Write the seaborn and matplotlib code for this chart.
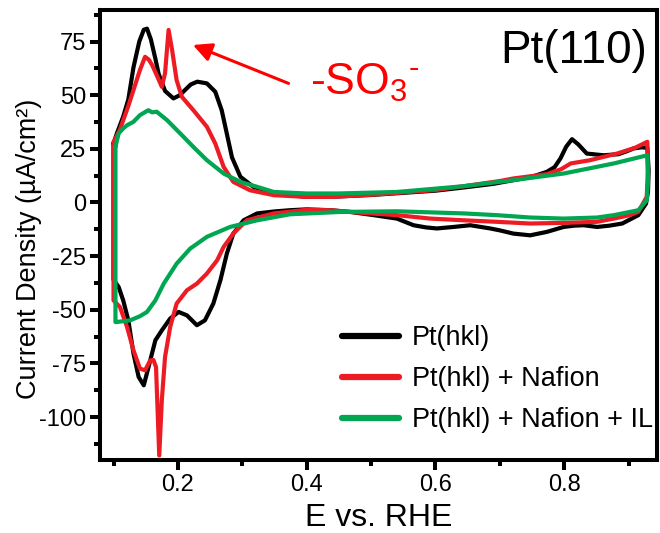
import numpy as np
import pandas as pd
import matplotlib
matplotlib.use("Agg")
import matplotlib.pyplot as plt
import seaborn as sns

# ---------------- data ----------------
series_names = ["Pt(hkl)", "Pt(hkl) + Nafion", "Pt(hkl) + Nafion + IL"]
colors = ["#000000", "#ED1C24", "#00A651"]

E_black_anodic = [0.100, 0.105, 0.110, 0.115, 0.123, 0.131, 0.140, 0.147, 0.152, 0.158,
                  0.165, 0.170, 0.180, 0.193, 0.203, 0.211, 0.220, 0.230, 0.245, 0.258,
                  0.268, 0.276, 0.284, 0.297, 0.317, 0.349, 0.400, 0.450, 0.500, 0.550,
                  0.600, 0.644, 0.690, 0.721, 0.750, 0.773, 0.785, 0.794, 0.803, 0.812,
                  0.822, 0.835, 0.861, 0.884, 0.898, 0.908, 0.920, 0.929]
j_black_anodic = [27.5, 32, 36, 40, 48, 63, 75, 80.5, 81, 76,
                  67, 60, 52, 48.5, 50, 52.4, 55, 56.3, 55.5, 51.6,
                  43, 32, 21, 12, 7.3, 4.2, 2.6, 2.8, 3.5, 4.5,
                  5.5, 7, 8.7, 10.4, 12, 14.3, 16.5, 20.5, 26, 29.5,
                  27, 22.8, 22, 22.5, 24, 25.2, 25.7, 25.5]
E_black_cathodic = [0.931, 0.930, 0.927, 0.915, 0.890, 0.870, 0.851, 0.830, 0.815, 0.799,
                    0.773, 0.747, 0.721, 0.700, 0.685, 0.654, 0.628, 0.602, 0.585, 0.566,
                    0.540, 0.504, 0.470, 0.437, 0.400, 0.374, 0.349, 0.323, 0.302, 0.286,
                    0.276, 0.266, 0.255, 0.242, 0.2295, 0.214, 0.201, 0.188, 0.175, 0.165,
                    0.157, 0.147, 0.139, 0.131, 0.123, 0.115, 0.108, 0.100]
j_black_cathodic = [15, 5, -0.5, -5.9, -9.8, -10.8, -11.4, -10.6, -10.8, -11.4,
                    -13.7, -15.3, -14.5, -13, -12.1, -10.6, -11.4, -12.1, -11.6, -10.6,
                    -7.5, -5.9, -4.5, -3.6, -3.2, -3.6, -4.2, -5.1, -8.3, -14.5,
                    -23.8, -36.2, -47.1, -54.9, -57.2, -52.6, -51, -54.1, -59.6, -64.2,
                    -73.6, -85.2, -81.3, -70.4, -54.9, -45.6, -39.4, -36]

E_red_anodic = [0.100, 0.105, 0.110, 0.115, 0.123, 0.131, 0.141, 0.149, 0.155, 0.160,
                0.167, 0.175, 0.180, 0.1855, 0.191, 0.198, 0.206, 0.224, 0.245, 0.258,
                0.271, 0.286, 0.312, 0.349, 0.400, 0.437, 0.500, 0.550, 0.600, 0.644,
                0.700, 0.721, 0.773, 0.795, 0.810, 0.840, 0.882, 0.910, 0.929]
j_red_anodic = [28, 31, 34, 38.3, 45, 52.4, 61.7, 67.9, 66.5, 64,
                59.4, 53.9, 60.2, 80.4, 71, 57, 49.3, 43, 35.3, 27.5,
                16.6, 9.6, 5.7, 3.4, 2.6, 2.6, 3.6, 4.7, 5.8, 7.6,
                10, 11.2, 13.2, 15.5, 18.2, 19.7, 22.8, 25.5, 28.3]
E_red_cathodic = [0.930, 0.928, 0.915, 0.900, 0.877, 0.851, 0.799, 0.747, 0.695, 0.644,
                  0.592, 0.540, 0.489, 0.437, 0.400, 0.349, 0.307, 0.286, 0.271, 0.261,
                  0.245, 0.2295, 0.214, 0.198, 0.188, 0.180, 0.175, 0.171, 0.166, 0.162,
                  0.157, 0.149, 0.141, 0.131, 0.121, 0.110, 0.100]
j_red_cathodic = [15, 2.6, -4.4, -6, -7.5, -9, -9.5, -9.8, -9, -8.3,
                  -7.5, -5.9, -4.9, -3.6, -3.4, -5.1, -8.3, -14.5, -20.7, -26.9,
                  -33.1, -37.8, -40.9, -47.1, -58, -72, -92.2, -117.9, -76.7, -73.4,
                  -73.6, -78.2, -77.4, -68.9, -58, -48.7, -45.6]

E_green_anodic = [0.103, 0.108, 0.115, 0.121, 0.131, 0.141, 0.154, 0.160, 0.167, 0.183,
                  0.2035, 0.224, 0.245, 0.271, 0.297, 0.323, 0.349, 0.400, 0.449, 0.540,
                  0.644, 0.721, 0.799, 0.877, 0.929]
j_green_anodic = [26, 32.2, 34.5, 36, 37.6, 40.7, 43, 42, 42.3, 38.4,
                  32.2, 25.9, 19.7, 13.5, 9.6, 7.3, 4.9, 4.2, 4.2, 4.9,
                  7.6, 10.4, 13.5, 18.2, 22]
E_green_cathodic = [0.930, 0.928, 0.915, 0.877, 0.851, 0.799, 0.747, 0.695, 0.644, 0.540,
                    0.452, 0.374, 0.323, 0.281, 0.245, 0.219, 0.198, 0.178, 0.165, 0.152,
                    0.141, 0.126, 0.105, 0.103]
j_green_cathodic = [10, 1, -3.6, -5.9, -7, -7.5, -7, -5.9, -5.1, -4.1,
                    -4.4, -5.5, -8.3, -11.4, -16, -21.5, -28.5, -37.8, -45.6, -51,
                    -53, -54.9, -55.7, -55.7]

x_major_ticks = [0.2, 0.4, 0.6, 0.8]
x_minor_ticks = [0.1, 0.3, 0.5, 0.7, 0.9]
y_major_ticks = [-100, -75, -50, -25, 0, 25, 50, 75]
y_minor_ticks = [-112.5, -87.5, -62.5, -37.5, -12.5, 12.5, 37.5, 62.5, 87.5]

# ---------------- build tidy table ----------------
loops = [
    (E_black_anodic, j_black_anodic, E_black_cathodic, j_black_cathodic),
    (E_red_anodic, j_red_anodic, E_red_cathodic, j_red_cathodic),
    (E_green_anodic, j_green_anodic, E_green_cathodic, j_green_cathodic),
]
frames = []
for name, (Ea, ja, Ec, jc) in zip(series_names, loops):
    E = list(Ea) + list(Ec) + [Ea[0]]
    j = list(ja) + list(jc) + [ja[0]]
    frames.append(pd.DataFrame({"E": E, "j": j, "series": name, "order": range(len(E))}))
df = pd.concat(frames, ignore_index=True)

# ---------------- style ----------------
sns.set_style("ticks")
plt.rcParams["font.family"] = ["Liberation Sans", "DejaVu Sans"]
plt.rcParams["mathtext.fontset"] = "custom"
plt.rcParams["mathtext.rm"] = "Liberation Sans"
plt.rcParams["mathtext.it"] = "Liberation Sans"
plt.rcParams["mathtext.bf"] = "Liberation Sans"
for key in ["text.color", "axes.labelcolor", "xtick.color", "ytick.color",
            "xtick.labelcolor", "ytick.labelcolor", "axes.edgecolor"]:
    plt.rcParams[key] = "black"

fig = plt.figure(figsize=(6.6, 5.33), dpi=100)
ax = fig.add_axes([100 / 660, 1 - 460 / 533, 557 / 660, 450 / 533])

sns.lineplot(data=df, x="E", y="j", hue="series", hue_order=series_names,
             palette=dict(zip(series_names, colors)), sort=False, estimator=None,
             linewidth=3.0, ax=ax)

ax.set_xlim(0.079, 0.944)
ax.set_ylim(-120, 89.7)
ax.set_xticks(x_major_ticks)
ax.set_xticks(x_minor_ticks, minor=True)
ax.set_yticks(y_major_ticks)
ax.set_yticks(y_minor_ticks, minor=True)
ax.set_xticklabels([f"{v:.1f}" for v in x_major_ticks])
ax.set_yticklabels([str(v) for v in y_major_ticks])

for s in ax.spines.values():
    s.set_linewidth(2.9)
    s.set_color("black")
ax.tick_params(which="major", direction="out", length=7, width=2.9, labelsize=17, pad=3,
               color="black", labelcolor="black")
ax.tick_params(which="minor", direction="out", length=4.5, width=2.9, color="black")

ax.set_xlabel("E vs. RHE", fontsize=23, labelpad=5, color="black")
ax.set_ylabel("Current Density (µA/cm²)", fontsize=19.5, color="black")
ax.yaxis.set_label_coords(-0.104, 0.469)

handles, labels = ax.get_legend_handles_labels()
leg = ax.legend(handles, labels, loc="upper left", bbox_to_anchor=(0.434, 0.299),
                frameon=False, fontsize=19.5, handlelength=2.1, handletextpad=0.5,
                labelspacing=0.55, borderpad=0, borderaxespad=0, labelcolor="black")
for line in leg.get_lines():
    line.set_linewidth(4.5)

ax.text(0.982, 0.8816, "Pt(110)", transform=ax.transAxes, ha="right", va="baseline",
        fontsize=33, color="black")

red = "#FF0000"
ax.annotate("", xy=(0.2233, 73.4), xytext=(0.3718, 55.5),
            arrowprops=dict(arrowstyle="-|>", color=red, lw=2.2, mutation_scale=28,
                            shrinkA=0, shrinkB=0))
ax.text(0.4057, 50, r"-SO$_3$$^{\text{-}}$", color=red, fontsize=32, ha="left", va="baseline")

fig.savefig("out.png", dpi=100)
